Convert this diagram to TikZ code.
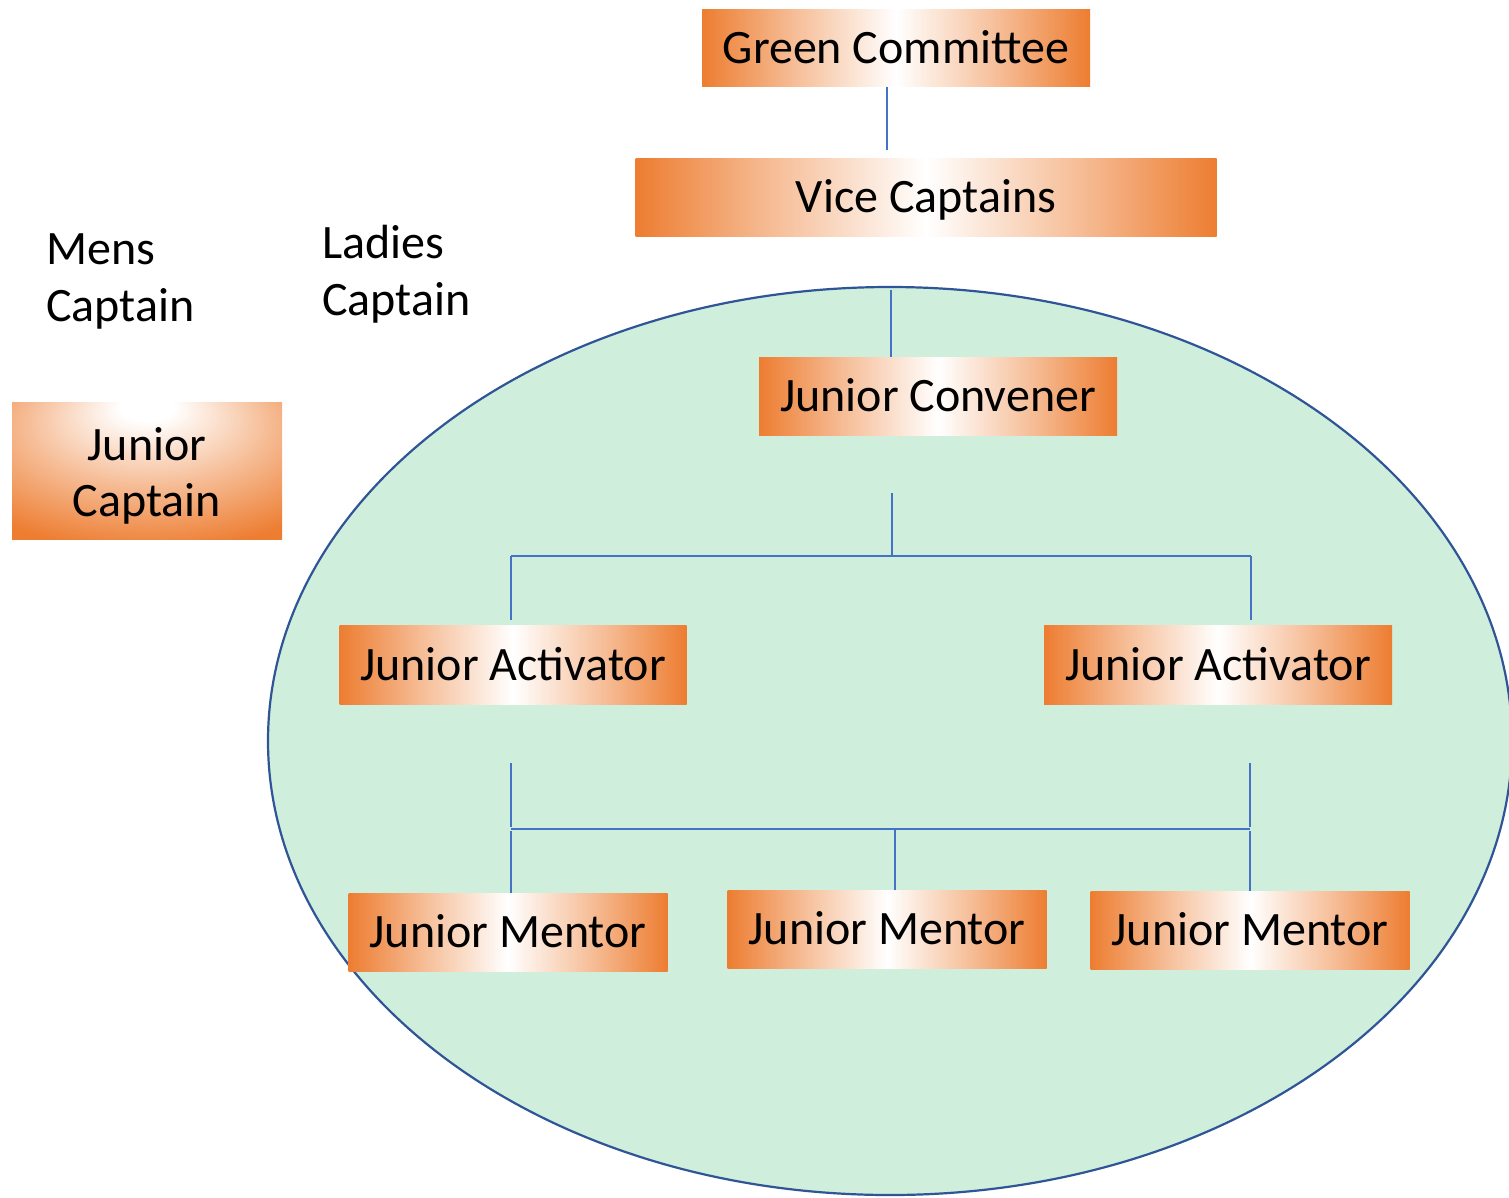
\documentclass[tikz,border=0pt]{standalone}
\usepackage{fontspec}
\setmainfont{Carlito}
\definecolor{org}{HTML}{ED7D31}
\definecolor{lnblue}{HTML}{4472C4}
\definecolor{elblue}{HTML}{2F5597}
\definecolor{elfill}{HTML}{CFEEDC}
\pgfdeclarehorizontalshading{hglow}{100bp}{color(0bp)=(org); color(25bp)=(org); color(37bp)=(org!50!white); color(50bp)=(white); color(63bp)=(org!50!white); color(75bp)=(org); color(100bp)=(org)}
\pgfdeclareradialshading{rglow}{\pgfpoint{0bp}{25bp}}{color(0bp)=(white); color(5bp)=(white); color(22bp)=(org!50!white); color(40bp)=(org); color(70bp)=(org)}
\tikzset{
  box/.style={shading=hglow, inner sep=0pt, text=black, text height=31pt, text depth=0pt, font=\fontsize{48}{57}\selectfont},
  rbox/.style={shading=rglow, inner sep=0pt, text=black, align=center, font=\fontsize{48}{56}\selectfont},
  lbl/.style={inner sep=0pt, anchor=west, align=left, text=black, font=\fontsize{48}{57}\selectfont},
  conn/.style={draw=lnblue, line width=2.8pt},
}
\begin{document}
\begin{tikzpicture}[x=1pt, y=-1pt]
\useasboundingbox (0,0) rectangle (1509,1197);
\fill[white] (0,0) rectangle (1509,1197);
% ellipse
\draw[elblue, line width=2.2pt, fill=elfill] (890,741) ellipse [x radius=622pt, y radius=454pt];
% boxes
\node[box, minimum width=388, minimum height=77] (gc) at (896,48) {Green Committee};
\node[box, minimum width=581, minimum height=78] (vc) at (926,197) {Vice Captains};
\node[box, minimum width=358, minimum height=78] (jcv) at (938,396) {Junior Convener};
\node[rbox, minimum width=270, minimum height=137] (jcap) at (147,471) {};
\node (jcapt) at (147,476) [align=center, inner sep=0pt, font=\fontsize{48}{56}\selectfont] {Junior\\Captain};
\node[box, minimum width=347, minimum height=79] (jal) at (513,665) {Junior Activator};
\node[box, minimum width=348, minimum height=79] (jar) at (1218,665) {Junior Activator};
\node[box, minimum width=319, minimum height=78] (jm1) at (508,932) {Junior Mentor};
\node[box, minimum width=319, minimum height=78] (jm2) at (887,929) {Junior Mentor};
\node[box, minimum width=319, minimum height=78] (jm3) at (1250,930) {Junior Mentor};
% labels
\node[lbl] (mens) at (46,281) {Mens\\Captain};
\node[lbl] (ladies) at (322,274) {Ladies\\Captain};
% connector coordinates
\coordinate (gcv) at (887,150);
\coordinate (vcj) at (891,290);
\coordinate (t1) at (892,493);
\coordinate (h1) at (892,556);
\coordinate (l1) at (511,556);
\coordinate (r1) at (1251,556);
\coordinate (l1b) at (511,620);
\coordinate (r1b) at (1251,620);
\coordinate (al) at (511,763);
\coordinate (ar) at (1250,763);
\coordinate (alb) at (511,827);
\coordinate (arb) at (1250,827);
\coordinate (hl) at (511,829);
\coordinate (hm) at (895,829);
\coordinate (hr) at (1250,829);
\coordinate (hl2) at (511,831);
\coordinate (hr2) at (1250,831);
% connectors
\draw[conn] (gc.south -| gcv) -- (gcv);
\draw[conn] (vcj) -- (vcj |- jcv.north);
\draw[conn] (t1) -- (h1);
\draw[conn] (l1) -- (r1);
\draw[conn] (l1) -- (l1b);
\draw[conn] (r1) -- (r1b);
\draw[conn] (al) -- (alb);
\draw[conn] (ar) -- (arb);
\draw[conn] (hl) -- (hr);
\draw[conn] (hl2) -- (hl2 |- jm1.north);
\draw[conn] (hm) -- (hm |- jm2.north);
\draw[conn] (hr2) -- (hr2 |- jm3.north);
\end{tikzpicture}
\end{document}
